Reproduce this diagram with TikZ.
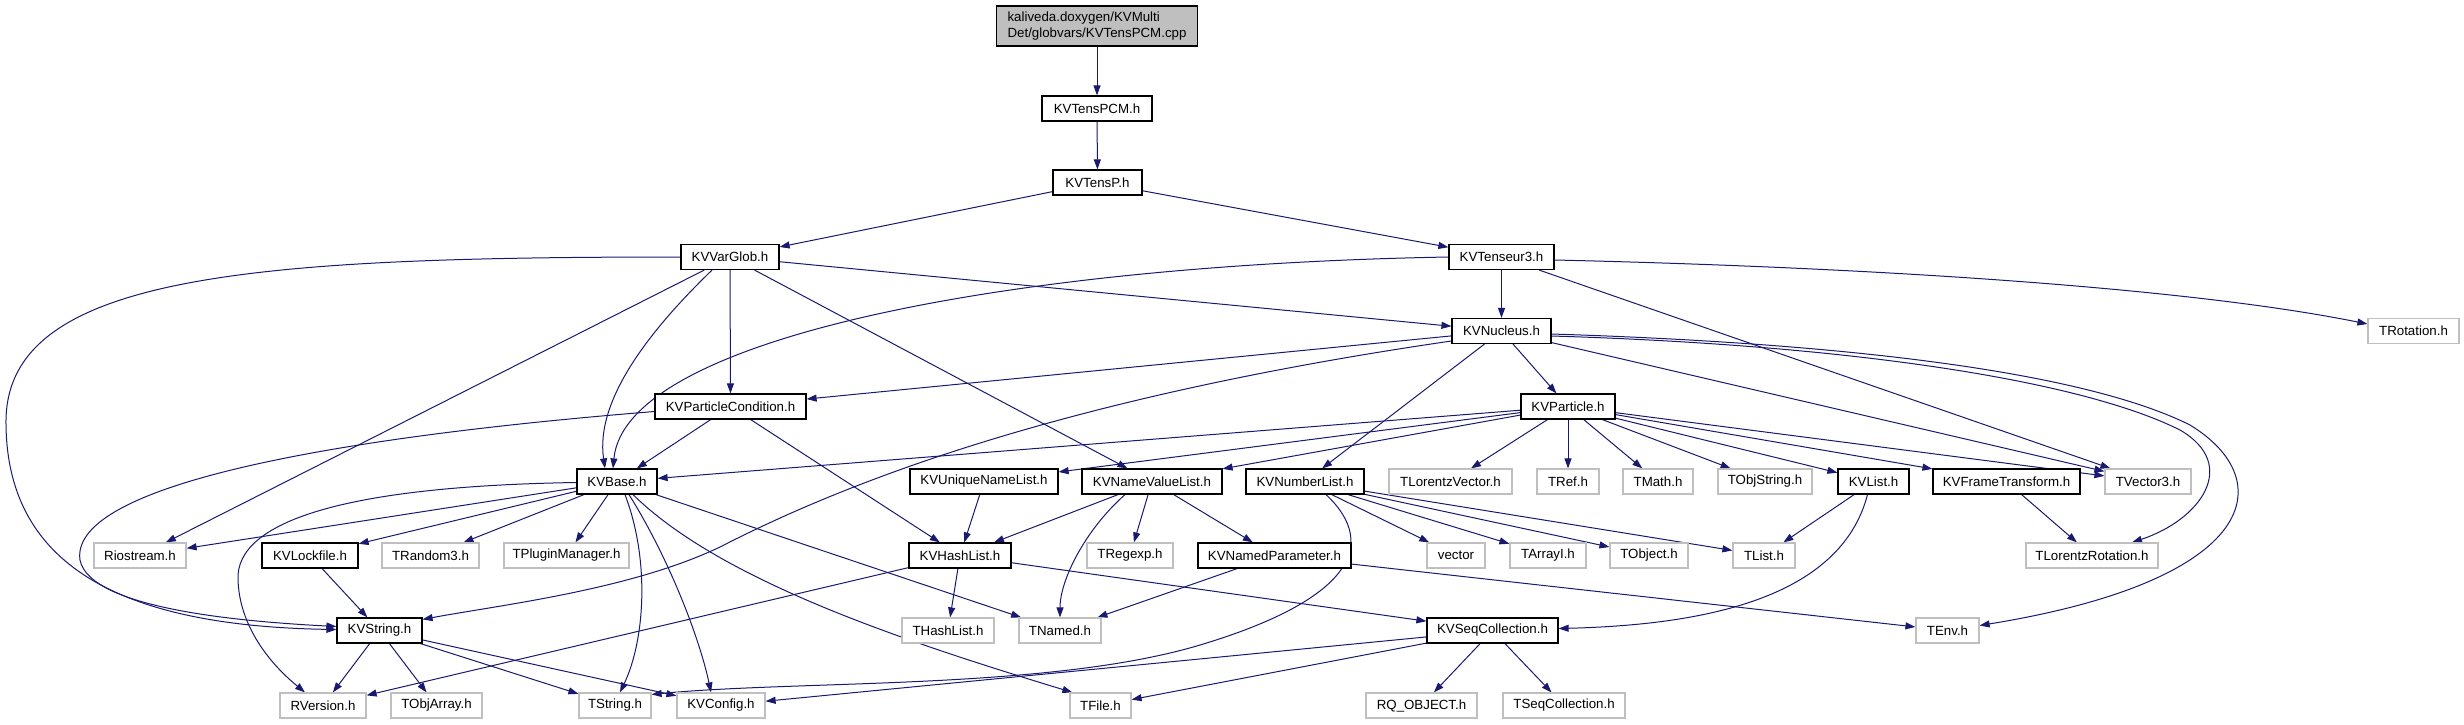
\documentclass[tikz,border=0pt]{standalone}
\usepackage{fontspec}
\setmainfont{Liberation Sans}
\usetikzlibrary{arrows.meta,backgrounds}
\definecolor{edgeCol}{HTML}{191970}
\definecolor{sysEdge}{HTML}{BFBFBF}
\definecolor{rootFill}{HTML}{BFBFBF}
\tikzset{
  hdr/.style={draw=black, fill=white, line width=1.2pt, minimum height=25pt, inner sep=0pt,
              font=\fontsize{13.3}{16}\selectfont},
  sys/.style={hdr, draw=sysEdge},                 % system / external header
  root/.style={hdr, fill=rootFill, minimum height=40pt, inner xsep=11pt, align=left},
  incl/.style={-{Triangle[length=10pt,width=7pt]}, draw=edgeCol, line width=1pt},
}

\begin{document}
\begin{tikzpicture}[x=1pt,y=-1pt]
  \useasboundingbox (0,0) rectangle (2464,724);

  % rows, top to bottom
  \node[root] (root) at (1097,26) {kaliveda.doxygen/KVMulti\\Det/globvars/KVTensPCM.cpp};
  \node[hdr, minimum width=110pt] (pcm)   at (1097,108.5) {KVTensPCM.h};
  \node[hdr, minimum width=89pt]  (tensp) at (1097.5,182.5) {KVTensP.h};
  \node[hdr, minimum width=98pt]  (varglob) at (730,257) {KVVarGlob.h};
  \node[hdr, minimum width=105pt] (tens3)   at (1501.5,257) {KVTenseur3.h};
  \node[hdr, minimum width=99pt]  (nucleus) at (1501.5,331) {KVNucleus.h};
  \node[sys, minimum width=91pt]  (trot)    at (2413.5,331) {TRotation.h};

  \node[hdr, minimum width=151pt] (pcond)    at (730.5,406.5) {KVParticleCondition.h};
  \node[hdr, minimum width=94pt]  (particle) at (1568,406.5) {KVParticle.h};

  \node[hdr, minimum width=80pt]  (kvbase)  at (617,481.5) {KVBase.h};
  \node[hdr, minimum width=148pt] (uniq)    at (984,481.5) {KVUniqueNameList.h};
  \node[hdr, minimum width=140pt] (nvlist)  at (1152,481.5) {KVNameValueList.h};
  \node[hdr, minimum width=118pt] (numlist) at (1305,481.5) {KVNumberList.h};
  \node[sys, minimum width=123pt] (tlvec)   at (1450.5,481.5) {TLorentzVector.h};
  \node[sys, minimum width=62pt]  (tref)    at (1568,481.5) {TRef.h};
  \node[sys, minimum width=70pt]  (tmath)   at (1658,481.5) {TMath.h};
  \node[sys, minimum width=94pt]  (tobjstr) at (1765,481.5) {TObjString.h};
  \node[hdr, minimum width=71pt]  (kvlist)  at (1873.5,481.5) {KVList.h};
  \node[hdr, minimum width=147pt] (frame)   at (2006.5,481.5) {KVFrameTransform.h};
  \node[sys, minimum width=86pt]  (tvec3)   at (2148,481.5) {TVector3.h};

  \node[sys, minimum width=92pt]  (riostr)   at (140,555.5) {Riostream.h};
  \node[hdr, minimum width=96pt]  (lockf)    at (310,555.5) {KVLockfile.h};
  \node[sys, minimum width=97pt]  (trand)    at (430.5,555.5) {TRandom3.h};
  \node[sys, minimum width=125pt] (tplug)    at (566.5,555.5) {TPluginManager.h};
  \node[hdr, minimum width=102pt] (hashlist) at (960,555.5) {KVHashList.h};
  \node[sys, minimum width=86pt]  (tregexp)  at (1130,555.5) {TRegexp.h};
  \node[hdr, minimum width=153pt] (namedpar) at (1274.5,555.5) {KVNamedParameter.h};
  \node[sys, minimum width=58pt]  (vector)   at (1456,555.5) {vector};
  \node[sys, minimum width=76pt]  (tarrayi)  at (1548,555.5) {TArrayI.h};
  \node[sys, minimum width=78pt]  (tobject)  at (1649,555.5) {TObject.h};
  \node[sys, minimum width=62pt]  (tlist)    at (1764,555.5) {TList.h};
  \node[sys, minimum width=132pt] (tlrot)    at (2092,555.5) {TLorentzRotation.h};

  \node[hdr, minimum width=85pt]  (kvstring) at (379.5,630.5) {KVString.h};
  \node[sys, minimum width=92pt]  (thash)    at (948,630.5) {THashList.h};
  \node[sys, minimum width=82pt]  (tnamed)   at (1060,630.5) {TNamed.h};
  \node[hdr, minimum width=131pt] (seqcoll)  at (1492.5,630.5) {KVSeqCollection.h};
  \node[sys, minimum width=63pt]  (tenv)     at (1947.5,630.5) {TEnv.h};

  \node[sys, minimum width=86pt]  (rversion) at (323,705.5) {RVersion.h};
  \node[sys, minimum width=91pt]  (tobjarr)  at (436.5,705.5) {TObjArray.h};
  \node[sys, minimum width=72pt]  (tstring)  at (615,705.5) {TString.h};
  \node[sys, minimum width=88pt]  (kvconfig) at (721,705.5) {KVConfig.h};
  \node[sys, minimum width=61pt]  (tfile)    at (1100.5,705.5) {TFile.h};
  \node[sys, minimum width=111pt] (rqobj)    at (1421.5,705.5) {RQ\_OBJECT.h};
  \node[sys, minimum width=122pt] (tseqcoll) at (1564,705.5) {TSeqCollection.h};

  \begin{scope}[on background layer]
  % straight includes
  \foreach \a/\b in {root/pcm, pcm/tensp, tensp/varglob, tensp/tens3,
      varglob/riostr, varglob/pcond, varglob/nvlist, varglob/nucleus,
      tens3/nucleus, tens3/tvec3,
      nucleus/pcond, nucleus/numlist, nucleus/particle, nucleus/tvec3,
      pcond/kvbase, pcond/hashlist,
      particle/kvbase, particle/uniq, particle/nvlist, particle/tlvec, particle/tref,
      particle/tmath, particle/tobjstr, particle/kvlist, particle/frame, particle/tvec3,
      kvbase/riostr, kvbase/lockf, kvbase/trand, kvbase/tplug, kvbase/tnamed,
      lockf/kvstring, uniq/hashlist, nvlist/hashlist, nvlist/tregexp, nvlist/namedpar,
      numlist/vector, numlist/tarrayi, numlist/tobject, numlist/tlist,
      kvlist/tlist, frame/tlrot,
      hashlist/rversion, hashlist/thash, hashlist/seqcoll,
      namedpar/tnamed, namedpar/tenv,
      kvstring/rversion, kvstring/tobjarr, kvstring/tstring, kvstring/kvconfig,
      seqcoll/kvconfig, seqcoll/tfile, seqcoll/rqobj, seqcoll/tseqcoll}
    \draw[incl] (\a) -- (\b);

  % curved includes
  \draw[incl] (varglob.west) .. controls (250,257) and (8,275) .. (6,420)
      .. controls (5,565) and (120,626) .. ([yshift=1pt]kvstring.west);
  \draw[incl] ([yshift=-5pt]pcond.west) .. controls (300,440) and (70,490) .. (80,560)
      .. controls (90,610) and (250,622) .. ([yshift=4pt]kvstring.west);
  \draw[incl] ([xshift=-18pt]varglob.south) .. controls (650,330) and (595,400) .. ([xshift=-12pt]kvbase.north);
  \draw[incl] (tens3.west) .. controls (1000,265) and (625,340) .. ([xshift=-4pt]kvbase.north);
  \draw[incl] ([yshift=-10pt]nucleus.west) .. controls (1080,395) and (860,475) .. (720,547)
      .. controls (630,590) and (500,605) .. ([yshift=-2pt]kvstring.north east);
  \draw[incl] ([yshift=-1pt]kvbase.west) .. controls (350,486) and (235,520) .. (238,580)
      .. controls (240,640) and (290,680) .. ([xshift=-18pt]rversion.north);
  \draw[incl] ([xshift=8pt]kvbase.south) .. controls (650,560) and (645,640) .. ([xshift=5pt]tstring.north);
  \draw[incl] ([xshift=12pt]kvbase.south) .. controls (670,560) and (700,640) .. ([xshift=-10pt]kvconfig.north);
  \draw[incl] ([xshift=16pt]kvbase.south) .. controls (720,580) and (900,640) .. ([xshift=3pt]tfile.north west);
  \draw[incl] ([xshift=21pt]numlist.south) .. controls (1380,545) and (1350,600) .. (1200,645)
      .. controls (1050,690) and (800,680) .. ([yshift=-2pt]tstring.north east);
  \draw[incl] ([xshift=-6pt]kvlist.south) .. controls (1840,600) and (1700,625) .. ([yshift=2pt]seqcoll.east);
  \draw[incl] ([yshift=-5pt]nucleus.east) .. controls (1850,345) and (2080,380) .. (2180,430)
      .. controls (2240,465) and (2200,520) .. ([xshift=40pt]tlrot.north);
  \draw[incl] ([yshift=-3pt]nucleus.east) .. controls (1900,345) and (2100,380) .. (2190,425)
      .. controls (2280,480) and (2260,580) .. ([yshift=5pt]tenv.east);
  \draw[incl] ([yshift=-3pt]tens3.east) .. controls (1900,268) and (2200,290) .. ([yshift=7pt]trot.west);
  \draw[incl] ([xshift=-27pt]nvlist.south) .. controls (1085,530) and (1060,580) .. (tnamed.north);
  \end{scope}
\end{tikzpicture}
\end{document}
